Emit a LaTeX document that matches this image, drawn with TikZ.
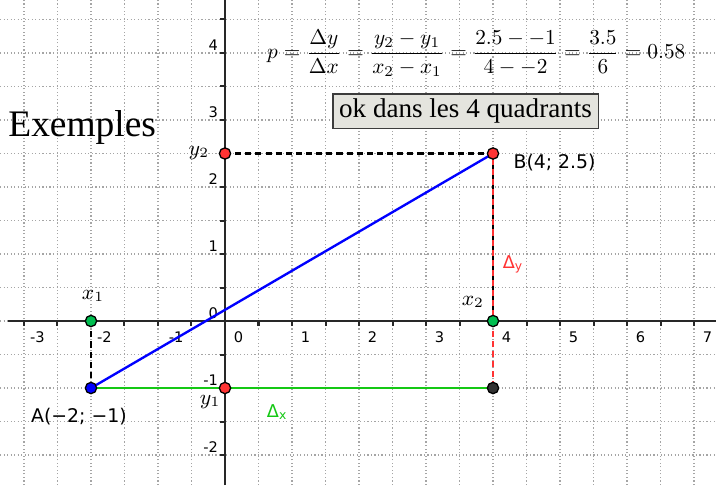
\documentclass[tikz,border=0pt]{standalone}
\usepackage{amsmath}
\usepackage{graphicx}
\usepackage{fontspec}
\newfontfamily\dvs{DejaVu Sans}
\newfontfamily\lserif{Liberation Serif}
\definecolor{ggblue}{RGB}{0,0,255}
\definecolor{gggreen}{RGB}{20,200,20}
\definecolor{ggred}{RGB}{255,51,51}
\definecolor{ptgreen}{RGB}{0,190,80}
\definecolor{ptdark}{RGB}{50,50,50}
\definecolor{gridgray}{RGB}{165,165,165}
\definecolor{boxfill}{RGB}{228,228,222}
\definecolor{boxdraw}{RGB}{60,60,60}
\definecolor{axisgray}{RGB}{40,40,40}
\tikzset{
  griddot/.style={gridgray, line width=0.5pt, dash pattern=on 0.5pt off 1pt},
  axisline/.style={axisgray, line width=0.85pt},
  ticklab/.style={font=\dvs\fontsize{6.2}{7}\selectfont, inner sep=0pt, text=black},
  pt/.style={circle, draw=black, line width=0.55pt, minimum size=4.8pt, inner sep=0pt},
  projdash/.style={black, line width=1pt, dash pattern=on 2.6pt off 1.7pt},
  reddash/.style={ggred, line width=1pt, dash pattern=on 2.6pt off 1.7pt, dash phase=2.15pt},
  ptname/.style={font=\dvs\fontsize{8}{9}\selectfont, inner sep=0pt},
  mathlab/.style={font=\fontsize{9}{10}\selectfont, inner sep=0pt},
  deltalab/.style={font=\dvs\fontsize{7.5}{9}\selectfont, inner sep=0pt}
}
\begin{document}
\begin{tikzpicture}[x=1cm,y=1cm]
\useasboundingbox (-3.358,-2.448) rectangle (7.328,4.791);
\fill[white] (-3.358,-2.448) rectangle (7.328,4.791);
% grid
\draw[griddot, step=0.5] (-3.358,-2.448) grid (7.328,4.791);
% axes
\coordinate (xl) at (-3.24,0);
\coordinate (xr) at (7.328,0);
\coordinate (yb) at (0,-2.448);
\coordinate (yt) at (0,4.791);
\draw[axisline] (xl) -- (xr);
\draw[axisline] (yb) -- (yt);
\foreach \x in {-3,-2.5,...,7} {\draw[axisline] (\x,0) -- (\x,-0.08);}
\foreach \y in {-2,-1.5,...,4.5} {\draw[axisline] (0,\y) -- (-0.08,\y);}
% tick labels
\foreach \x/\n in {-3/m3,-2/m2,1/p1,2/p2,3/p3,4/p4,5/p5,6/p6,7/p7} {\node[ticklab] (tx\n) at (\x+0.2,-0.24) {\x};}
\node[ticklab] (txm1) at (-0.73,-0.24) {-1};
\node[ticklab] (tx0) at (0.2,-0.24) {0};
\foreach \y/\n in {-2/m2,-1/m1,0/z,1/p1,2/p2,3/p3,4/p4} {\node[ticklab, anchor=east] (ty\n) at (-0.1,\y+0.12) {\y};}
% points
\coordinate (A) at (-2,-1);
\coordinate (B) at (4,2.5);
\coordinate (X1) at (-2,0);
\coordinate (X2) at (4,0);
\coordinate (Y1) at (0,-1);
\coordinate (Y2) at (0,2.5);
\coordinate (C) at (4,-1);
% lines
\draw[gggreen, line width=1.2pt] (A) -- (C);
\draw[projdash] (A) -- (X1);
\draw[projdash] (Y2) -- (B);
\draw[projdash] (B) -- (X2);
\draw[reddash] (B) -- (C);
\draw[ggblue, line width=1pt] (A) -- (B);
% point marks
\node[pt, fill=ggblue] (Apt) at (A) {};
\node[pt, fill=ggred] (Bpt) at (B) {};
\node[pt, fill=ptgreen] (X1pt) at (X1) {};
\node[pt, fill=ptgreen] (X2pt) at (X2) {};
\node[pt, fill=ggred] (Y1pt) at (Y1) {};
\node[pt, fill=ggred] (Y2pt) at (Y2) {};
\node[pt, fill=ptdark] (Cpt) at (C) {};
% labels
\node[mathlab] (lx1) at (-1.97,0.37) {$x_1$};
\node[mathlab] (lx2) at (3.70,0.28) {$x_2$};
\node[mathlab] (ly1) at (-0.22,-1.21) {$y_1$};
\node[mathlab] (ly2) at (-0.39,2.51) {$y_2$};
\node[ptname, anchor=west] (lB) at (4.30,2.36) {B(4; 2.5)};
\node[ptname] (lA) at (-2.18,-1.43) {A(−2; −1)};
\node[deltalab, text=ggred] (ldy) at (4.30,0.85) {Δ\textsubscript{y}};
\node[deltalab, text=gggreen] (ldx) at (0.78,-1.36) {Δ\textsubscript{x}};
% texts
\node[anchor=base west, inner sep=0pt, font=\lserif\fontsize{15.9}{18}\selectfont] (ex) at (-3.24,2.75) {Exemples};
\node[draw=boxdraw, fill=boxfill, line width=0.6pt, inner sep=0pt, minimum width=3.96cm, minimum height=0.52cm, font=\lserif\fontsize{11.5}{13}\selectfont] (box) at (3.59,3.13) {ok dans les 4 quadrants};
\node[inner sep=0pt] (formula) at (3.75,4.0) {\resizebox{6.24cm}{!}{$\displaystyle p=\frac{\Delta y}{\Delta x}=\frac{y_2-y_1}{x_2-x_1}=\frac{2.5- -1}{4- -2}=\frac{3.5}{6}=0.58$}};
\end{tikzpicture}
\end{document}
